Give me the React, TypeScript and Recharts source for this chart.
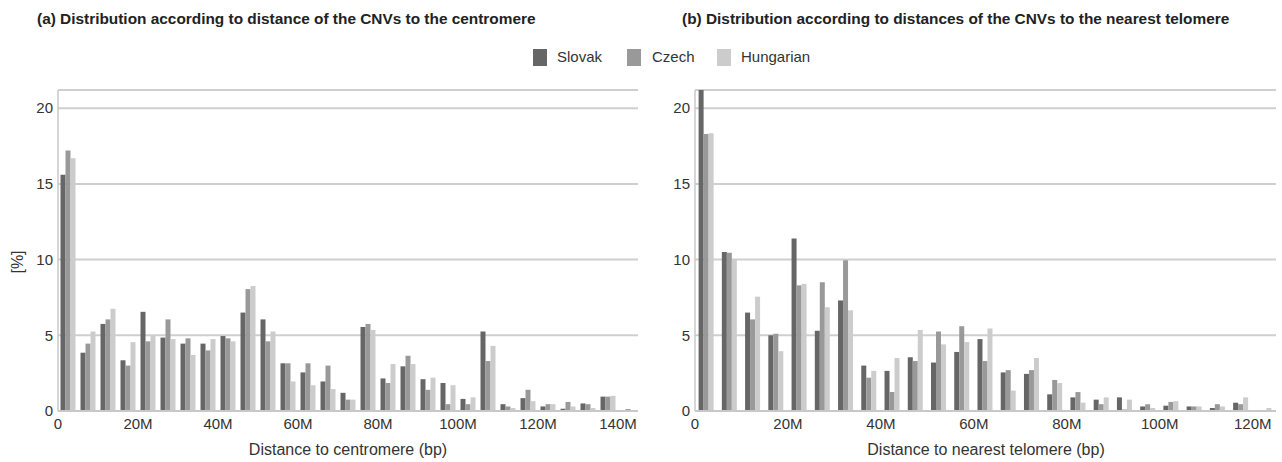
import React from "react";
import { BarChart, Bar, XAxis, YAxis, CartesianGrid } from "recharts";

const centromereBins = [0, 5, 10, 15, 20, 25, 30, 35, 40, 45, 50, 55, 60, 65, 70, 75, 80, 85, 90, 95, 100, 105, 110, 115, 120, 125, 130, 135, 140];
const centSlovak = [15.6, 3.85, 5.75, 3.35, 6.55, 4.85, 4.45, 4.45, 4.95, 6.5, 6.05, 3.15, 2.55, 1.95, 1.2, 5.55, 2.15, 2.95, 2.1, 1.85, 0.8, 5.25, 0.45, 0.85, 0.3, 0.15, 0.5, 0.95, 0];
const centCzech = [17.2, 4.45, 6.05, 3.0, 4.6, 6.05, 4.8, 4.0, 4.8, 8.05, 4.6, 3.15, 3.15, 3.0, 0.75, 5.75, 1.85, 3.65, 1.4, 0.45, 0.45, 3.3, 0.3, 1.4, 0.45, 0.6, 0.45, 0.95, 0.13];
const centHungarian = [16.7, 5.25, 6.75, 4.55, 4.95, 4.75, 3.7, 4.75, 4.6, 8.25, 5.25, 1.95, 1.7, 1.45, 0.75, 5.35, 3.1, 3.1, 2.2, 1.7, 0.9, 4.3, 0.2, 0.65, 0.45, 0.3, 0.2, 1.0, 0];

const telomereBins = [0, 5, 10, 15, 20, 25, 30, 35, 40, 45, 50, 55, 60, 65, 70, 75, 80, 85, 90, 95, 100, 105, 110, 115, 120];
const telSlovak = [21.2, 10.5, 6.5, 5.0, 11.4, 5.3, 7.3, 3.0, 2.65, 3.55, 3.2, 3.9, 4.75, 2.55, 2.45, 1.1, 0.9, 0.75, 0.9, 0.3, 0.35, 0.3, 0.2, 0.55, 0.05];
const telCzech = [18.3, 10.45, 6.05, 5.1, 8.3, 8.5, 9.95, 2.2, 1.25, 3.3, 5.25, 5.6, 3.3, 2.7, 2.7, 2.05, 1.25, 0.45, 0.1, 0.45, 0.6, 0.3, 0.45, 0.45, 0.03];
const telHungarian = [18.35, 10.0, 7.55, 3.95, 8.4, 6.85, 6.65, 2.65, 3.5, 5.35, 4.4, 4.55, 5.45, 1.35, 3.5, 1.85, 0.55, 0.9, 0.75, 0.2, 0.65, 0.3, 0.3, 0.9, 0.2];

const yTicks = [0, 5, 10, 15, 20];
const centXTicks = [0, 20, 40, 60, 80, 100, 120, 140];
const telXTicks = [0, 20, 40, 60, 80, 100, 120];

const seriesNames = ["Slovak", "Czech", "Hungarian"];
const colors = ["#666666", "#999999", "#cccccc"];

const FONT = "'Liberation Sans Narrow', 'Liberation Sans', Arial, sans-serif";

const centData = centromereBins.map((b, i) => ({
  bin: b,
  Slovak: centSlovak[i],
  Czech: centCzech[i],
  Hungarian: centHungarian[i],
}));
const telData = telomereBins.map((b, i) => ({
  bin: b,
  Slovak: telSlovak[i],
  Czech: telCzech[i],
  Hungarian: telHungarian[i],
}));

const fmt = (v: number) => (v === 0 ? "0" : `${v}M`);
const tickStyle = { fontSize: 15, fill: "#333", fontFamily: FONT };

// Places the tick label at the left edge of its bin (bin start value)
function EdgeTick(props: any) {
  const { x, y, payload, shift } = props;
  return (
    <text x={x + shift} y={y} dy={12} textAnchor="middle" fontSize={15} fill="#333" fontFamily={FONT}>
      {fmt(payload.value)}
    </text>
  );
}

function Panel({ data, width, plotW, xTicks, gap }: { data: any[]; width: number; plotW: number; xTicks: number[]; gap: string }) {
  const band = plotW / data.length;
  return (
    <BarChart
      width={width}
      height={462}
      data={data}
      margin={{ top: 90, right: width - 58 - plotW, bottom: 21, left: 8 }}
      barCategoryGap={gap}
      barGap={0}
    >
      <CartesianGrid vertical={false} stroke="#cfcfcf" strokeWidth={2} />
      <XAxis
        dataKey="bin"
        ticks={xTicks}
        interval={0}
        tickLine={false}
        tickSize={0}
        tickMargin={6}
        axisLine={{ stroke: "#c8c8c8", strokeWidth: 2 }}
        tick={<EdgeTick shift={-band / 2} />}
        height={30}
      />
      <YAxis
        width={50}
        domain={[0, 21.2]}
        allowDataOverflow
        ticks={yTicks}
        tickLine={false}
        tickSize={0}
        tickMargin={5}
        axisLine={{ stroke: "#c8c8c8", strokeWidth: 1.5 }}
        tick={tickStyle}
      />
      {seriesNames.map((s, i) => (
        <Bar key={s} dataKey={s} fill={colors[i]} isAnimationActive={false} />
      ))}
    </BarChart>
  );
}

export default function App() {
  const abs = (left: number, top: number): React.CSSProperties => ({ position: "absolute", left, top, whiteSpace: "nowrap" });
  return (
    <div style={{ position: "absolute", left: 0, top: 0, width: 1282, height: 462, background: "#fff", fontFamily: FONT, color: "#222" }}>
      <div style={{ ...abs(37, 10), fontSize: 15.4, fontWeight: "bold" }}>(a) Distribution according to distance of the CNVs to the centromere</div>
      <div style={{ ...abs(682, 10), fontSize: 15.4, fontWeight: "bold" }}>(b) Distribution according to distances of the CNVs to the nearest telomere</div>

      <div style={{ ...abs(533, 49), width: 14, height: 17, background: colors[0] }} />
      <div style={{ ...abs(557, 48), fontSize: 15, color: "#333" }}>Slovak</div>
      <div style={{ ...abs(627, 49), width: 14, height: 17, background: colors[1] }} />
      <div style={{ ...abs(652, 48), fontSize: 15, color: "#333" }}>Czech</div>
      <div style={{ ...abs(717, 49), width: 14, height: 17, background: colors[2] }} />
      <div style={{ ...abs(741, 48), fontSize: 15, color: "#333" }}>Hungarian</div>

      <div style={{ position: "absolute", left: 0, top: 0 }}>
        <Panel data={centData} width={650} plotW={580} xTicks={centXTicks} gap="12.5%" />
      </div>
      <div style={{ position: "absolute", left: 637, top: 0 }}>
        <Panel data={telData} width={645} plotW={581} xTicks={telXTicks} gap="15.5%" />
      </div>

      <div style={{ position: "absolute", left: 18, top: 262, transform: "translate(-50%, -50%) rotate(-90deg)", fontSize: 16, color: "#333", whiteSpace: "nowrap" }}>[%]</div>
      <div style={{ position: "absolute", left: 348, top: 450, transform: "translate(-50%, -50%)", fontSize: 16, color: "#333", whiteSpace: "nowrap" }}>Distance to centromere (bp)</div>
      <div style={{ position: "absolute", left: 986, top: 450, transform: "translate(-50%, -50%)", fontSize: 16, color: "#333", whiteSpace: "nowrap" }}>Distance to nearest telomere (bp)</div>
    </div>
  );
}
